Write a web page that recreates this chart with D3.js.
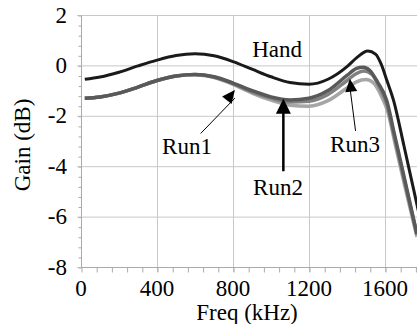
<!DOCTYPE html>
<html>
<head>
<meta charset="utf-8">
<script src="https://cdn.jsdelivr.net/npm/d3@7"></script>
<style>
  body { margin: 0; background: #fff; }
  #chart text { font-family: "Liberation Serif", "Times New Roman", serif !important; }
</style>
</head>
<body>
<svg id="chart" width="417" height="324" font-family="Liberation Serif"></svg>
<script>
// frequencies in kHz
const handFreq = [20, 100, 200, 300, 400, 500, 600, 700, 800, 900, 1000, 1100, 1200, 1300, 1400, 1450, 1510, 1550, 1580, 1610, 1645, 1700, 1750, 1800];
const handGain = [-0.55, -0.46, -0.27, -0.02, 0.21, 0.39, 0.46, 0.38, 0.15, -0.15, -0.45, -0.68, -0.75, -0.55, -0.05, 0.3, 0.57, 0.45, 0.05, -0.6, -1.39, -3.2, -4.9, -6.6];

const run1Freq = [20, 100, 200, 300, 400, 500, 600, 700, 800, 900, 1000, 1100, 1200, 1300, 1400, 1450, 1485, 1520, 1560, 1609, 1650, 1700, 1768];
const run1Gain = [-1.3, -1.25, -1.1, -0.86, -0.6, -0.42, -0.36, -0.45, -0.7, -1.0, -1.25, -1.37, -1.3, -1.0, -0.4, -0.12, -0.07, -0.2, -0.65, -1.39, -2.75, -4.4, -6.7];

const run2Freq = [20, 100, 200, 300, 400, 500, 600, 700, 800, 900, 1000, 1100, 1200, 1300, 1400, 1450, 1490, 1530, 1570, 1612, 1650, 1700, 1768];
const run2Gain = [-1.3, -1.25, -1.1, -0.86, -0.6, -0.42, -0.36, -0.46, -0.72, -1.05, -1.3, -1.45, -1.42, -1.15, -0.6, -0.32, -0.22, -0.35, -0.85, -1.6, -2.85, -4.5, -6.7];

const run3Freq = [20, 100, 200, 300, 400, 500, 600, 700, 800, 900, 1000, 1100, 1200, 1300, 1400, 1450, 1500, 1540, 1580, 1615, 1650, 1700, 1768];
const run3Gain = [-1.3, -1.25, -1.1, -0.86, -0.6, -0.42, -0.37, -0.48, -0.75, -1.1, -1.38, -1.58, -1.62, -1.4, -0.9, -0.65, -0.56, -0.7, -1.2, -1.85, -3.0, -4.65, -6.8];

const xTicks = [0, 400, 800, 1200, 1600];
const yTicks = [-8, -6, -4, -2, 0, 2];

const series = [
  { name: 'Run3', freq: run3Freq, gain: run3Gain, color: '#a6a6a6', w: 3.5 },
  { name: 'Run2', freq: run2Freq, gain: run2Gain, color: '#808080', w: 3.5 },
  { name: 'Run1', freq: run1Freq, gain: run1Gain, color: '#595959', w: 3.5 },
  { name: 'Hand', freq: handFreq, gain: handGain, color: '#1a1a1a', w: 3 }
];

// annotation: label position and arrow (from -> to) in data units
const notes = [
  { label: 'Hand', at: [1032, 0.32], arrow: null },
  { label: 'Run1', at: [558, -3.53], arrow: { from: [630, -2.7], to: [810, -0.98], thick: false } },
  { label: 'Run2', at: [1037, -5.16], arrow: { from: [1065, -4.2], to: [1065, -1.32], thick: true } },
  { label: 'Run3', at: [1442, -3.45], arrow: { from: [1445, -2.6], to: [1415, -0.53], thick: false } }
];

const width = 417;
const height = 324;
const margin = { top: 15, bottom: 57, left: 81, right: 0 };
const serif = '"Liberation Serif", "Times New Roman", serif';

const svg = d3.select('#chart');

const x = d3.scaleLinear()
  .domain([0, 2000])
  .range([margin.left, margin.left + 380]);

const y = d3.scaleLinear()
  .domain([-8, 2])
  .range([height - margin.bottom, margin.top]);

// gridlines
svg.append('g')
  .attr('stroke', '#c8c8c8')
  .attr('stroke-width', 1)
  .selectAll('line')
  .data(yTicks)
  .join('line')
    .attr('x1', margin.left - 4).attr('x2', width)
    .attr('y1', d => y(d) + 0.5).attr('y2', d => y(d) + 0.5);

svg.append('g')
  .attr('stroke', '#c8c8c8')
  .attr('stroke-width', 1)
  .selectAll('line')
  .data(xTicks.filter(d => d > 0))
  .join('line')
    .attr('x1', d => x(d) + 0.5).attr('x2', d => x(d) + 0.5)
    .attr('y1', margin.top).attr('y2', y(-8) + 5);

// axes with minor ticks
function yAxis(g) {
  g.attr('transform', `translate(${margin.left + 0.5},0.5)`)
    .call(d3.axisLeft(y).tickValues(d3.range(-8, 2.01, 0.4)).tickSize(3).tickFormat(''))
    .call(g => g.select('.domain').remove())
    .attr('color', '#aaaaaa');
  g.append('line').attr('y1', y(2)).attr('y2', y(-8)).attr('stroke', '#aaaaaa');
}

function xAxis(g) {
  g.attr('transform', `translate(0.5,${y(-8) + 0.5})`)
    .call(d3.axisBottom(x).tickValues(d3.range(0, 2001, 80)).tickSize(5).tickFormat(''))
    .call(g => g.select('.domain').remove())
    .attr('color', '#aaaaaa');
  g.append('line').attr('x1', x(0)).attr('x2', width).attr('stroke', '#aaaaaa');
}

svg.append('g').call(yAxis);
svg.append('g').call(xAxis);

// tick labels
svg.selectAll('text.ylab')
  .data(yTicks)
  .join('text')
    .attr('class', 'ylab')
    .style('font-family', serif, 'important')
    .attr('font-size', 23)
    .attr('text-anchor', 'end')
    .attr('x', margin.left - 14)
    .attr('y', d => y(d) + 7.5)
    .text(d => d);

svg.selectAll('text.xlab')
  .data(xTicks)
  .join('text')
    .attr('class', 'xlab')
    .style('font-family', serif, 'important')
    .attr('font-size', 23)
    .attr('text-anchor', 'middle')
    .attr('x', d => x(d))
    .attr('y', 296)
    .text(d => d);

svg.append('text')
  .style('font-family', serif, 'important')
  .attr('font-size', 23)
  .attr('text-anchor', 'middle')
  .attr('x', 247)
  .attr('y', 320)
  .text('Freq (kHz)');

svg.append('text')
  .style('font-family', serif, 'important')
  .attr('font-size', 23)
  .attr('text-anchor', 'middle')
  .attr('transform', 'translate(30,145) rotate(-90)')
  .text('Gain (dB)');

// curves
const line = d3.line()
  .x(d => x(d[0]))
  .y(d => y(d[1]))
  .curve(d3.curveMonotoneX);

svg.append('g')
  .selectAll('path')
  .data(series)
  .join('path')
    .attr('fill', 'none')
    .attr('stroke', d => d.color)
    .attr('stroke-width', d => d.w)
    .attr('stroke-linejoin', 'round')
    .attr('d', d => line(d.freq.map((f, i) => [f, d.gain[i]])));

// annotations: shaft plus a filled triangular head
const arrows = notes.filter(d => d.arrow);

function headPath(d) {
  const x1 = x(d.arrow.from[0]), y1 = y(d.arrow.from[1]);
  const x2 = x(d.arrow.to[0]), y2 = y(d.arrow.to[1]);
  const len = d.arrow.thick ? 15 : 13;
  const half = d.arrow.thick ? 7.5 : 6;
  const a = Math.atan2(y2 - y1, x2 - x1);
  const bx = x2 - len * Math.cos(a), by = y2 - len * Math.sin(a);
  const px = -Math.sin(a) * half, py = Math.cos(a) * half;
  return `M${x2},${y2}L${bx + px},${by + py}L${bx - px},${by - py}Z`;
}

svg.append('g')
  .selectAll('line')
  .data(arrows)
  .join('line')
    .attr('x1', d => x(d.arrow.from[0])).attr('y1', d => y(d.arrow.from[1]))
    .attr('x2', d => x(d.arrow.to[0])).attr('y2', d => y(d.arrow.to[1]) + (d.arrow.thick ? 12 : 8))
    .attr('stroke', '#000')
    .attr('stroke-width', d => d.arrow.thick ? 2.5 : 1);

svg.append('g')
  .selectAll('path')
  .data(arrows)
  .join('path')
    .attr('fill', '#000')
    .attr('d', headPath);

svg.selectAll('text.note')
  .data(notes)
  .join('text')
    .attr('class', 'note')
    .style('font-family', serif, 'important')
    .attr('font-size', 23)
    .attr('text-anchor', 'middle')
    .attr('x', d => x(d.at[0]))
    .attr('y', d => y(d.at[1]))
    .text(d => d.label);
</script>
</body>
</html>
